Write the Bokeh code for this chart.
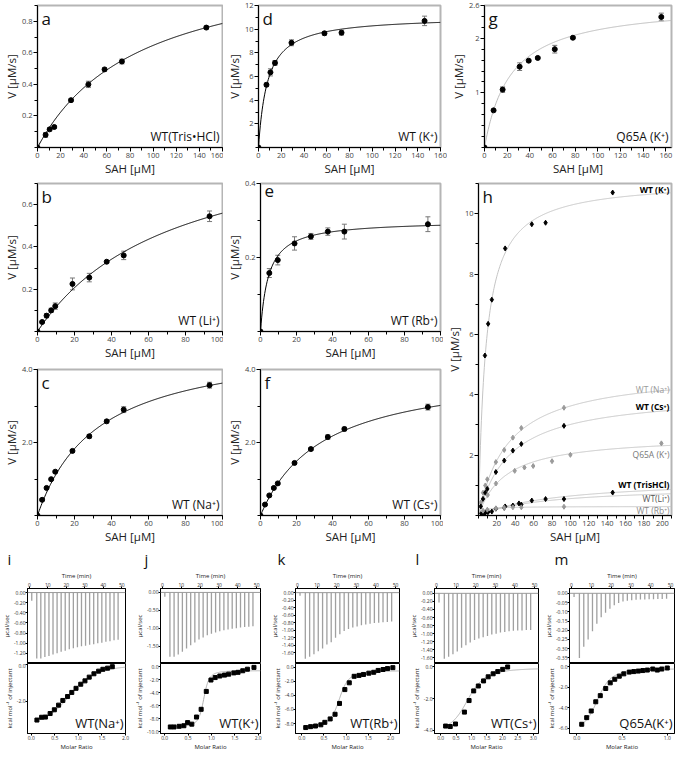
import numpy as np
from bokeh.plotting import figure
from bokeh.models import (Range1d, FixedTicker, Label, Whisker, ColumnDataSource,
                          TeeHead, PrintfTickFormatter, Span)
from bokeh.layouts import column, row
from bokeh.embed import file_html
from bokeh.resources import INLINE

FONT = "Open Sans"

# ---------------- kinetics data: SAH [uM], V [uM/s], error; fit = [Vmax, Km] ----------------
a_sah = [0, 7, 10.5, 14.5, 29, 44, 58, 73, 146]
a_v = [0, 0.08, 0.115, 0.13, 0.30, 0.40, 0.495, 0.545, 0.76]
a_err = [0, 0.015, 0.01, 0.008, 0.01, 0.02, 0.01, 0.015, 0.01]
a_fit = [1.226, 89.5]

d_sah = [0, 7, 10.5, 14.5, 29, 58, 73, 146]
d_v = [0, 5.3, 6.35, 7.15, 8.85, 9.65, 9.7, 10.7]
d_err = [0, 0.15, 0.3, 0.2, 0.25, 0.15, 0.2, 0.4]
d_fit = [11.1, 8.0]

g_sah = [0, 8, 16, 31, 39, 47, 62, 78, 156]
g_v = [0, 0.68, 1.06, 1.48, 1.59, 1.64, 1.80, 2.01, 2.39]
g_err = [0, 0.02, 0.05, 0.07, 0.02, 0.02, 0.07, 0.02, 0.07]
g_fit = [2.65, 23.0]

b_sah = [0, 2.5, 4.9, 7.4, 9.6, 18.9, 28, 37.4, 46.6, 93]
b_v = [0, 0.045, 0.075, 0.10, 0.12, 0.225, 0.255, 0.33, 0.36, 0.545]
b_err = [0, 0.005, 0.01, 0.01, 0.015, 0.028, 0.02, 0.005, 0.02, 0.025]
b_fit = [0.974, 74.0]

e_sah = [0, 4.9, 9.6, 18.9, 28, 37.4, 46.6, 93]
e_v = [0, 0.158, 0.193, 0.238, 0.257, 0.27, 0.27, 0.29]
e_err = [0, 0.012, 0.013, 0.018, 0.008, 0.01, 0.02, 0.02]
e_fit = [0.30, 4.5]

c_sah = [0, 2.5, 4.9, 7.4, 9.6, 18.9, 28, 37.4, 46.6, 93]
c_v = [0, 0.43, 0.755, 0.995, 1.2, 1.77, 2.17, 2.58, 2.9, 3.57]
c_err = [0, 0.03, 0.03, 0.03, 0.03, 0.04, 0.05, 0.04, 0.08, 0.08]
c_fit = [4.81, 32.6]

f_sah = [0, 2.5, 4.9, 7.4, 9.6, 18.9, 28, 37.4, 46.6, 93]
f_v = [0, 0.3, 0.55, 0.755, 0.88, 1.44, 1.82, 2.15, 2.37, 2.97]
f_err = [0, 0.02, 0.03, 0.03, 0.03, 0.04, 0.04, 0.06, 0.05, 0.08]
f_fit = [4.06, 34.6]

# panel h: Q65A plotted on its own concentration scale
h_q65a_sah = [0, 10, 19, 39.4, 50, 59.5, 80, 100, 199]
h_q65a_fit = [2.65, 29.4]
h_names = ["WT (K⁺)", "WT (Na⁺)", "WT (Cs⁺)", "Q65A (K⁺)", "WT (TrisHCl)", "WT(Li⁺)", "WT (Rb⁺)"]

# ---------------- ITC data ----------------
itc_time = [1.3, 4.0, 6.2, 8.4, 10.6, 12.8, 15.0, 17.2, 19.4, 21.6, 23.8, 26.0,
            28.2, 30.4, 32.6, 34.8, 37.0, 39.2, 41.4, 43.6, 45.8, 48.0]
i_peak = [-0.16, -1.30, -1.30, -1.27, -1.25, -1.22, -1.20, -1.17, -1.15, -1.12, -1.10,
          -1.08, -1.06, -1.05, -1.03, -1.02, -1.00, -0.99, -0.97, -0.96, -0.94, -0.93]
j_peak = [-0.12, -1.80, -1.80, -1.74, -1.66, -1.57, -1.48, -1.40, -1.32, -1.26, -1.20,
          -1.16, -1.12, -1.09, -1.06, -1.04, -1.02, -1.00, -0.98, -0.97, -0.96, -0.95]
k_peak = [-0.08, -1.76, -1.71, -1.64, -1.56, -1.49, -1.38, -1.32, -1.20, -1.11, -1.02,
          -0.97, -0.93, -0.90, -0.87, -0.85, -0.83, -0.81, -0.80, -0.79, -0.78, -0.77]
l_peak = [-0.23, -1.62, -1.57, -1.51, -1.44, -1.35, -1.29, -1.22, -1.16, -1.12, -1.09,
          -1.06, -1.02, -1.00, -0.97, -0.96, -0.94, -0.93, -0.92, -0.92, -0.91, -0.91]
m_peak = [-0.02, -0.35, -0.29, -0.25, -0.205, -0.165, -0.13, -0.105, -0.083, -0.065,
          -0.052, -0.044, -0.040, -0.037, -0.035, -0.034, -0.033, -0.032, -0.032,
          -0.031, -0.031, -0.030]

i_ratio = [0.12, 0.22, 0.30, 0.40, 0.49, 0.58, 0.67, 0.77, 0.86, 0.95, 1.05, 1.14,
           1.23, 1.33, 1.43, 1.52, 1.62, 1.72]
i_heat = [-3.0, -2.85, -2.84, -2.65, -2.45, -2.2, -1.95, -1.74, -1.52, -1.30, -1.08,
          -0.90, -0.70, -0.52, -0.38, -0.28, -0.22, -0.14]
i_fit = [-3.4, 0.9, 10.0, 0.0]   # dH, n, c, offset

j_ratio = [0.12, 0.20, 0.31, 0.41, 0.49, 0.58, 0.68, 0.78, 0.89, 0.99, 1.08, 1.18,
           1.28, 1.37, 1.48, 1.57, 1.67, 1.77, 1.91]
j_heat = [-9.29, -9.29, -9.19, -9.1, -8.62, -8.86, -7.76, -6.57, -3.81, -2.05, -1.67,
          -1.43, -1.29, -1.14, -0.95, -0.86, -0.62, -0.38, -0.1]
j_fit = [-8.7, 0.84, 200.0, -0.6]

k_ratio = [0.09, 0.20, 0.31, 0.43, 0.52, 0.64, 0.75, 0.85, 0.97, 1.07, 1.18, 1.29,
           1.39, 1.51, 1.62, 1.72, 1.83, 1.93, 2.05]
k_heat = [-8.56, -8.43, -8.34, -8.17, -7.82, -7.34, -6.68, -5.15, -3.19, -2.23, -1.31,
          -1.18, -1.05, -0.87, -0.74, -0.48, -0.35, -0.22, -0.09]
k_fit = [-8.1, 0.86, 60.0, -0.5]

l_ratio = [0.16, 0.31, 0.48, 0.77, 0.92, 1.07, 1.22, 1.39, 1.54, 1.70, 1.85, 2.01, 2.17]
l_heat = [-3.73, -3.76, -3.6, -2.85, -2.12, -1.51, -1.2, -0.88, -0.62, -0.43, -0.29,
          -0.15, 0.0]
l_fit = [-4.2, 0.95, 10.0, -0.05]

m_ratio = [0.055, 0.11, 0.16, 0.21, 0.26, 0.32, 0.37, 0.42, 0.47, 0.52, 0.58, 0.63,
           0.68, 0.73, 0.78, 0.84, 0.89, 0.94, 1.0]
m_heat = [-5.6, -4.95, -4.3, -3.4, -2.8, -2.1, -1.55, -1.2, -0.9, -0.67, -0.5, -0.45,
          -0.4, -0.35, -0.3, -0.2, -0.3, -0.2, -0.1]
m_fit = [-6.3, 0.25, 10.0, -0.15]


def mm(x, fit):
    x = np.asarray(x, dtype=float)
    return fit[0] * x / (fit[1] + x)


def isotherm(x, fit):
    dH, n, c, off = fit
    x = np.asarray(x, dtype=float)
    xn = x / n
    r = 1.0 / c
    f = 0.5 + (1 - xn - r) / (2 * np.sqrt((1 + xn + r) ** 2 - 4 * xn))
    return off + dH * f


def style_axes(p, tick_size="7.5px", label_size="11.5px", tick_out=4, minor_out=3,
               lab_sd=0, tick_sd=1):
    for ax in p.axis:
        ax.axis_line_color = "black"
        ax.major_tick_line_color = "black"
        ax.minor_tick_line_color = "black"
        ax.major_tick_in = 0
        ax.major_tick_out = tick_out
        ax.minor_tick_in = 0
        ax.minor_tick_out = minor_out
        ax.major_label_text_font_size = tick_size
        ax.major_label_text_color = "#444444"
        ax.major_label_text_font = FONT
        ax.axis_label_text_font = FONT
        ax.axis_label_text_font_size = label_size
        ax.axis_label_text_font_style = "normal"
        ax.axis_label_text_color = "#222222"
        ax.axis_label_standoff = lab_sd
        ax.major_label_standoff = tick_sd


def base_fig(w, h, bl, br, bt, bb, xr, yr, x_loc="below", title=None):
    kw = {}
    if title is not None:
        kw["title"] = title
    p = figure(width=w, height=h, x_range=Range1d(*xr), y_range=Range1d(*yr),
               output_backend="svg", toolbar_location=None, x_axis_location=x_loc,
               min_border_left=bl, min_border_right=br, min_border_top=bt,
               min_border_bottom=bb, **kw)
    p.xgrid.visible = False
    p.ygrid.visible = False
    p.background_fill_color = "white"
    p.border_fill_color = "white"
    return p


def kin_panel(w, h, bl, br, bt, bb, xmax, ymax, xt, xm, yt, ym, letter, tag,
              xs, vs, errs, fit, curve_color="black", yfmt=None, ylab_over=None):
    p = base_fig(w, h, bl, br, bt, bb, (0, xmax), (0, ymax))
    p.outline_line_color = "#b5b5b5"
    p.outline_line_width = 2
    p.xaxis.ticker = FixedTicker(ticks=xt, minor_ticks=xm)
    p.yaxis.ticker = FixedTicker(ticks=yt, minor_ticks=ym)
    if yfmt:
        p.yaxis.formatter = PrintfTickFormatter(format=yfmt)
    if ylab_over:
        p.yaxis.major_label_overrides = ylab_over
    p.xaxis.axis_label = "SAH [μM]"
    p.yaxis.axis_label = "V [μM/s]"
    style_axes(p)
    xf = np.linspace(0, xmax, 300)
    p.line(xf, mm(xf, fit), line_color=curve_color, line_width=1)
    ex = [x for x, e in zip(xs, errs) if e > 0]
    ey = [v for v, e in zip(vs, errs) if e > 0]
    ee = [e for e in errs if e > 0]
    src = ColumnDataSource(dict(x=ex, lo=[v - e for v, e in zip(ey, ee)],
                                hi=[v + e for v, e in zip(ey, ee)]))
    p.add_layout(Whisker(source=src, base="x", lower="lo", upper="hi",
                         line_color="#777777", line_width=1,
                         lower_head=TeeHead(size=5, line_color="#777777"),
                         upper_head=TeeHead(size=5, line_color="#777777")))
    p.scatter(xs, vs, marker="circle", size=5, color="black")
    p.add_layout(Label(x=0, y=ymax, x_offset=4, y_offset=-1, text=letter,
                       text_baseline="top", text_font=FONT, text_font_size="17px",
                       text_color="#111111"))
    p.add_layout(Label(x=xmax, y=0, x_offset=-3, y_offset=3, text=tag,
                       text_align="right", text_baseline="bottom", text_font=FONT,
                       text_font_size="12px", text_color="#111111"))
    return p


t160 = list(range(0, 161, 20))
m160 = list(range(0, 171, 10))
t100 = list(range(0, 101, 20))
m100 = list(range(0, 101, 10))

pa = kin_panel(223, 178, 27, 1, 5, 28, 160, 0.9, t160, m160,
               [0.2, 0.4, 0.6, 0.8], [round(0.1 * k, 1) for k in range(10)],
               "a", "WT(Tris•HCl)", a_sah, a_v, a_err, a_fit)
pd = kin_panel(224, 178, 27, 7, 5, 28, 160, 12, t160, m160,
               [2, 4, 6, 8, 10, 12], list(range(0, 13)),
               "d", "WT (K⁺)", d_sah, d_v, d_err, d_fit)
pg = kin_panel(230, 178, 30, 6, 5, 28, 165, 2.6, t160, m160,
               [1, 2, 2.6], [round(0.2 * k, 1) for k in range(14)],
               "g", "Q65A (K⁺)", g_sah, g_v, g_err, g_fit, curve_color="#bbbbbb",
               ylab_over={1: "1", 2: "2", 2.6: "2.6"})

pb = kin_panel(223, 184, 27, 1, 5, 28, 100, 0.7, t100, m100,
               [0.2, 0.4, 0.6], [round(0.1 * k, 1) for k in range(8)],
               "b", "WT (Li⁺)", b_sah, b_v, b_err, b_fit)
pe = kin_panel(220, 184, 27, 3, 5, 28, 100, 0.4, t100, m100,
               [0.2, 0.4], [0, 0.1, 0.2, 0.3, 0.4],
               "e", "WT (Rb⁺)", e_sah, e_v, e_err, e_fit)
pc = kin_panel(223, 184, 27, 1, 7, 28, 100, 4.0, t100, m100,
               [2.0, 4.0], [0, 1, 2, 3, 4],
               "c", "WT (Na⁺)", c_sah, c_v, c_err, c_fit, yfmt="%.1f")
pf = kin_panel(220, 184, 27, 3, 7, 28, 100, 4.0, t100, m100,
               [2.0, 4.0], [0, 1, 2, 3, 4],
               "f", "WT (Cs⁺)", f_sah, f_v, f_err, f_fit, yfmt="%.1f")

# ---------------- panel h ----------------
ph = base_fig(234, 368, 30, 6, 5, 28, (0, 210), (0, 11))
ph.outline_line_color = "#b5b5b5"
ph.outline_line_width = 2
ph.xaxis.ticker = FixedTicker(ticks=list(range(20, 201, 20)), minor_ticks=list(range(0, 211, 10)))
ph.yaxis.ticker = FixedTicker(ticks=[2, 4, 6, 8, 10], minor_ticks=list(range(0, 12)))
ph.xaxis.axis_label = "SAH [μM]"
ph.yaxis.axis_label = "V [μM/s]"
style_axes(ph)
h_series = [
    (d_sah, d_v, d_fit, "black"),
    (c_sah, c_v, c_fit, "#9a9a9a"),
    (f_sah, f_v, f_fit, "black"),
    (h_q65a_sah, g_v, h_q65a_fit, "#9a9a9a"),
    (a_sah, a_v, a_fit, "black"),
    (b_sah, b_v, b_fit, "black"),
    (e_sah, e_v, e_fit, "#9a9a9a"),
]
xf = np.linspace(0, 210, 400)
for xs, vs, fit, col in h_series:
    ph.line(xf, mm(xf, fit), line_color="#c4c4c4", line_width=1)
for xs, vs, fit, col in h_series:
    ph.scatter(xs, vs, marker="diamond", size=5, color=col)
h_label_y = [10.8, 4.19, 3.6, 2.03, 1.04, 0.55, 0.16]
h_label_style = [("black", "bold"), ("#9a9a9a", "normal"), ("black", "bold"),
                 ("#777777", "normal"), ("black", "bold"), ("#555555", "normal"),
                 ("#888888", "normal")]
for name, yy, (col, fs) in zip(h_names, h_label_y, h_label_style):
    ph.add_layout(Label(x=210, y=yy, x_offset=-2, text=name, text_align="right",
                        text_baseline="middle", text_font=FONT, text_font_size="8.5px",
                        text_font_style=fs, text_color=col))
ph.add_layout(Label(x=0, y=11, x_offset=4, y_offset=-1, text="h", text_baseline="top",
                    text_font=FONT, text_font_size="17px", text_color="#111111"))


# ---------------- ITC panels ----------------
def itc_panel(w, bl, br, letter, letter_dx, peaks, top_yr, top_ticks, top_fmt,
              ratio, heat, fit, bot_xr, bot_xt, bot_yr, bot_yt, tag):
    top = base_fig(w, 117, bl, br, 0, 0, (-1, 52), top_yr, x_loc="above", title=letter)
    top.title.text_font = FONT
    top.title.text_font_size = "15px"
    top.title.text_font_style = "normal"
    top.title.text_color = "#111111"
    top.title.align = "left"
    top.title.offset = letter_dx
    top.title.standoff = 0
    top.outline_line_color = "black"
    top.outline_line_width = 1
    top.xaxis.ticker = FixedTicker(ticks=[0, 10, 20, 30, 40, 50])
    top.yaxis.ticker = FixedTicker(ticks=top_ticks)
    top.yaxis.formatter = PrintfTickFormatter(format=top_fmt)
    top.xaxis.axis_label = "Time (min)"
    top.yaxis.axis_label = "μcal/sec"
    style_axes(top, tick_size="5px", label_size="6px", tick_out=2, minor_out=1,
               lab_sd=0, tick_sd=0)
    for ax in top.axis:
        ax.major_label_text_color = "#333333"
    top.add_layout(Span(location=0, dimension="width", line_color="#9a9a9a", line_width=1))
    top.segment(x0=itc_time, y0=[0] * len(itc_time), x1=itc_time, y1=peaks,
                line_color="#a0a0a0", line_width=1.3)

    bot = base_fig(w, 90, bl, br, 0, 15, bot_xr, bot_yr)
    bot.outline_line_color = "black"
    bot.outline_line_width = 1
    bot.xaxis.ticker = FixedTicker(ticks=bot_xt)
    bot.xaxis.formatter = PrintfTickFormatter(format="%.1f")
    bot.yaxis.ticker = FixedTicker(ticks=bot_yt)
    bot.yaxis.formatter = PrintfTickFormatter(format="%.1f")
    bot.xaxis.axis_label = "Molar Ratio"
    bot.yaxis.axis_label = "kcal mol⁻¹ of injectant"
    style_axes(bot, tick_size="5px", label_size="6px", tick_out=2, minor_out=1,
               lab_sd=0, tick_sd=0)
    for ax in bot.axis:
        ax.major_label_text_color = "#333333"
    xf = np.linspace(ratio[0] * 0.6, bot_xr[1], 300)
    bot.line(xf, isotherm(xf, fit), line_color="#b0b0b0", line_width=1)
    bot.scatter(ratio, heat, marker="square", size=4, color="black")
    bot.add_layout(Label(x=bot_xr[1], y=bot_yr[0], x_offset=-2, y_offset=2, text=tag,
                         text_align="right", text_baseline="bottom", text_font=FONT,
                         text_font_size="13px", text_color="#111111"))
    return column(top, bot)


col_i = itc_panel(133, 22, 8, "i", -20, i_peak, (-1.40, 0.08),
                  [0, -0.2, -0.4, -0.6, -0.8, -1.0, -1.2], "%.2f",
                  i_ratio, i_heat, i_fit, (-0.08, 2.0), [0, 0.5, 1.0, 1.5, 2.0],
                  (-3.72, 0.03), [0, -2.0], "WT(Na⁺)")
col_j = itc_panel(135, 24, 8, "j", -16, j_peak, (-1.99, 0.11),
                  [0, -0.5, -1.0, -1.5], "%.2f",
                  j_ratio, j_heat, j_fit, (-0.09, 2.05), [0, 0.5, 1.0, 1.5, 2.0],
                  (-10.3, 0.5), [0, -2, -4, -6, -8, -10], "WT(K⁺)")
col_k = itc_panel(137, 27, 6, "k", -18, k_peak, (-1.89, 0.11),
                  [0, -0.2, -0.4, -0.6, -0.8, -1.0, -1.2, -1.4, -1.6], "%.2f",
                  k_ratio, k_heat, k_fit, (-0.14, 2.2), [0, 0.5, 1.0, 1.5, 2.0],
                  (-9.4, 0.5), [0, -2, -4, -6, -8], "WT(Rb⁺)")
col_l = itc_panel(137, 29, 4, "l", -19, l_peak, (-1.74, 0.12),
                  [0, -0.2, -0.4, -0.6, -0.8, -1.0, -1.2, -1.4, -1.6], "%.2f",
                  l_ratio, l_heat, l_fit, (-0.2, 3.17), [0, 0.5, 1.0, 1.5, 2.0, 2.5, 3.0],
                  (-4.2, 0.22), [0, -2, -4], "WT(Cs⁺)")
col_m = itc_panel(135, 27, 3, "m", -15, m_peak, (-0.38, 0.026),
                  [0, -0.05, -0.1, -0.15, -0.2, -0.25, -0.3, -0.35], "%.2f",
                  m_ratio, m_heat, m_fit, (-0.08, 1.08), [0, 0.5, 1.0],
                  (-6.5, 0.34), [0, -2, -4, -6], "Q65A(K⁺)")

layout = column(
    row(pa, pd, pg),
    row(column(row(pb, pe), row(pc, pf)), ph),
    row(col_i, col_j, col_k, col_l, col_m),
)

open("out.html", "w").write(file_html(layout, INLINE))
